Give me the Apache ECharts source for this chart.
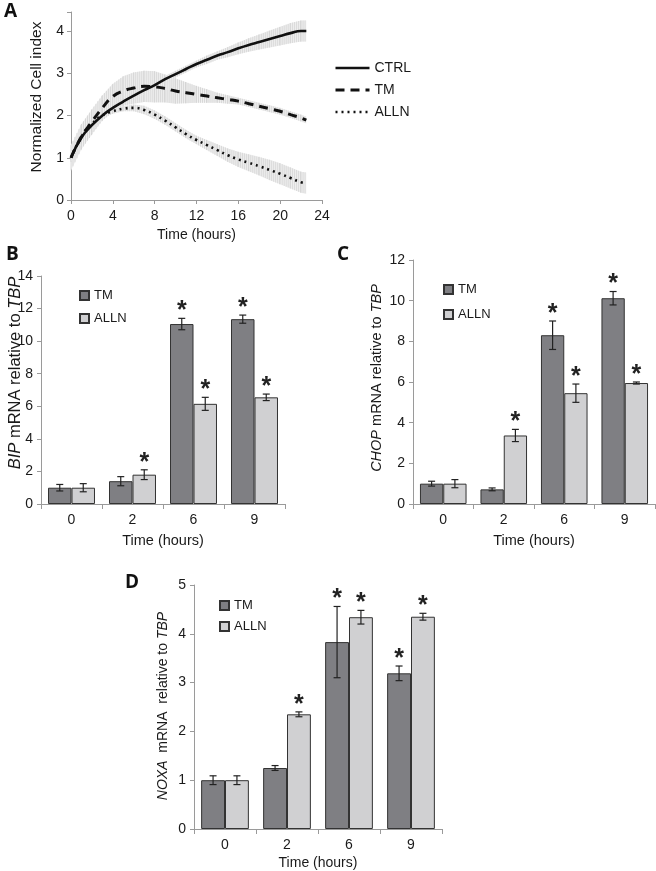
<!DOCTYPE html>
<html><head><meta charset="utf-8">
<script src="https://cdn.jsdelivr.net/npm/echarts@6/dist/echarts.min.js"></script>
<style>
html,body{margin:0;padding:0;background:#fff;width:656px;height:871px;overflow:hidden}
.c{position:absolute;left:0;top:0;width:656px;height:871px}
</style></head>
<body>
<div id="a" class="c"></div><div id="b" class="c"></div><div id="cc" class="c"></div><div id="d" class="c"></div>
<script>
// ---------- Panel A data (Normalized Cell index vs Time) ----------
const timesA   = [0,1,2,3,4,5,6,7,8,9,10,11,12,13,14,15,16,17,18,19,20,21,22,22.5];
const ctrlA    = [1.0,1.48,1.77,2.0,2.18,2.33,2.47,2.6,2.72,2.86,2.98,3.1,3.22,3.32,3.42,3.5,3.59,3.67,3.74,3.81,3.88,3.95,4.0,4.0];
const ctrlErrA = [0.05,0.15,0.15,0.12,0.1,0.1,0.1,0.1,0.08,0.08,0.08,0.08,0.08,0.1,0.1,0.12,0.14,0.16,0.18,0.2,0.22,0.24,0.25,0.25];
const tmA      = [1.0,1.5,1.85,2.18,2.45,2.58,2.65,2.69,2.68,2.64,2.58,2.54,2.5,2.46,2.42,2.38,2.34,2.28,2.22,2.16,2.1,2.02,1.94,1.89];
const tmErrA   = [0.3,0.3,0.3,0.3,0.3,0.35,0.37,0.37,0.37,0.33,0.3,0.25,0.2,0.16,0.12,0.1,0.08,0.08,0.08,0.08,0.08,0.08,0.08,0.08];
const allnA    = [1.0,1.5,1.8,2.0,2.1,2.16,2.18,2.13,2.02,1.88,1.72,1.56,1.42,1.3,1.18,1.06,0.96,0.88,0.8,0.71,0.62,0.52,0.42,0.4];
const allnErrA = [0.1,0.1,0.08,0.06,0.06,0.06,0.08,0.1,0.1,0.1,0.1,0.1,0.1,0.12,0.14,0.16,0.18,0.2,0.22,0.24,0.25,0.25,0.25,0.25];
const xTicksA  = [0,4,8,12,16,20,24];

// ---------- Bar panels ----------
const timeCats = ['0','2','6','9'];
// B: BIP
const bipTM      = [1.0,1.4,11.05,11.35];
const bipTMErr   = [0.2,0.28,0.35,0.25];
const bipTMSig   = [0,0,1,1];
const bipALLN    = [1.0,1.8,6.15,6.55];
const bipALLNErr = [0.25,0.3,0.4,0.2];
const bipALLNSig = [0,1,1,1];
// C: CHOP
const chopTM      = [1.0,0.72,8.3,10.12];
const chopTMErr   = [0.12,0.07,0.7,0.33];
const chopTMSig   = [0,0,1,1];
const chopALLN    = [1.0,3.37,5.45,5.95];
const chopALLNErr = [0.2,0.3,0.45,0.05];
const chopALLNSig = [0,1,1,1];
// D: NOXA
const noxaTM      = [1.0,1.25,3.83,3.19];
const noxaTMErr   = [0.09,0.05,0.73,0.15];
const noxaTMSig   = [0,0,1,1];
const noxaALLN    = [1.0,2.35,4.34,4.35];
const noxaALLNErr = [0.09,0.05,0.14,0.07];
const noxaALLNSig = [0,1,1,1];

const FONT = 'Liberation Sans, Arial, sans-serif';
const TXT = '#1a1a1a';
const AX = '#9a9a9a';
const TM_COL = '#7f7f83';
const ALLN_COL = '#d0d0d2';
const GAP = 0.23;

// ---------- Panel A ----------
function bandData(mean, err){
  const out=[];
  for(let i=0;i<timesA.length-1;i++){
    out.push([timesA[i], mean[i]-err[i], mean[i]+err[i], timesA[i+1], mean[i+1]-err[i+1], mean[i+1]+err[i+1]]);
  }
  return out;
}
function bandRender(params, api){
  const x0=api.value(0), l0=api.value(1), h0=api.value(2), x1=api.value(3), l1=api.value(4), h1=api.value(5);
  const pL0=api.coord([x0,l0]), pH0=api.coord([x0,h0]), pL1=api.coord([x1,l1]), pH1=api.coord([x1,h1]);
  const children=[{type:'polygon', shape:{points:[pL0,pH0,pH1,pL1]}, style:{fill:'#f1f1f1', stroke:null}}];
  const w=pL1[0]-pL0[0];
  for(let px=0; px<w; px+=2){
    const f=px/w;
    const yl=pL0[1]+(pL1[1]-pL0[1])*f, yh=pH0[1]+(pH1[1]-pH0[1])*f;
    children.push({type:'line', shape:{x1:pL0[0]+px,y1:yl,x2:pL0[0]+px,y2:yh}, style:{stroke:'#cdcdcd', lineWidth:0.7}});
  }
  return {type:'group', children};
}
const pairs = arr => timesA.map((t,i)=>[t,arr[i]]);

const chartA = echarts.init(document.getElementById('a'), null, {renderer:'canvas'});
chartA.setOption({
  animation:false,
  textStyle:{fontFamily:FONT},
  grid:{left:71, top:12, width:251, height:188, outerBoundsMode:'none'},
  xAxis:{type:'value', min:0, max:24, interval:4,
    axisLine:{lineStyle:{color:AX}}, axisTick:{show:true, length:4, lineStyle:{color:AX}},
    axisLabel:{color:TXT, fontSize:14, margin:9, formatter:v=>xTicksA.includes(v)?String(v):''},
    splitLine:{show:false},
    name:'Time (hours)', nameLocation:'middle', nameGap:28, nameTextStyle:{color:TXT, fontSize:14}},
  yAxis:{type:'value', min:0, max:4.45, interval:1,
    axisLine:{show:true, lineStyle:{color:AX}}, axisTick:{show:true, length:4, lineStyle:{color:AX}},
    axisLabel:{color:TXT, fontSize:14, margin:7, formatter:v=>Number.isInteger(v)?String(v):''},
    splitLine:{show:false}},
  legend:{orient:'vertical', left:329, top:56, itemWidth:34, itemHeight:10, itemGap:8,
    itemStyle:{opacity:0},
    textStyle:{color:TXT, fontSize:14, fontFamily:FONT},
    data:[
      {name:'CTRL', lineStyle:{width:2.6, type:'solid', color:'#111'}},
      {name:'TM', lineStyle:{width:3, type:[9,6], color:'#111'}},
      {name:'ALLN', lineStyle:{width:2.6, type:[2,4], color:'#111'}}
    ]},
  series:[
    {type:'custom', name:'bandTM', renderItem:bandRender, data:bandData(tmA,tmErrA), z:1, silent:true},
    {type:'custom', name:'bandCTRL', renderItem:bandRender, data:bandData(ctrlA,ctrlErrA), z:1, silent:true},
    {type:'custom', name:'bandALLN', renderItem:bandRender, data:bandData(allnA,allnErrA), z:1, silent:true},
    {type:'line', name:'CTRL', data:pairs(ctrlA), smooth:true, symbol:'none', z:5,
      lineStyle:{color:'#111', width:2.6, type:'solid'}, itemStyle:{color:'#111'}},
    {type:'line', name:'TM', data:pairs(tmA), smooth:true, symbol:'none', z:5,
      lineStyle:{color:'#111', width:3, type:[9,6]}, itemStyle:{color:'#111'}},
    {type:'line', name:'ALLN', data:pairs(allnA), smooth:true, symbol:'none', z:5,
      lineStyle:{color:'#111', width:2.6, type:[2,4]}, itemStyle:{color:'#111'}}
  ],
  graphic:[
    {type:'text', left:4, top:2, style:{text:'A', font:'bold 19px "Open Sans", sans-serif', fill:'#111'}},
    {type:'text', x:37, y:97, rotation:Math.PI/2, style:{text:'Normalized Cell index', font:'15.5px '+FONT, fill:TXT, textAlign:'center', textVerticalAlign:'middle'}}
  ]
});

// ---------- Bar panels helper ----------
function errRender(side){
  return function(params, api){
    const i=api.value(0), v=api.value(1), e=api.value(2), s=api.value(3);
    const catW=api.size([1,0])[0];
    const off=side*catW*(1-GAP)/4;
    const c=api.coord([i,v]);
    const x=c[0]+off;
    const yt=api.coord([i,v+e])[1], yb=api.coord([i,v-e])[1];
    const st={stroke:'#222', lineWidth:1.2};
    const ch=[
      {type:'line', shape:{x1:x,y1:yt,x2:x,y2:yb}, style:st},
      {type:'line', shape:{x1:x-3.5,y1:yt,x2:x+3.5,y2:yt}, style:st},
      {type:'line', shape:{x1:x-3.5,y1:yb,x2:x+3.5,y2:yb}, style:st}
    ];
    if(s){
      ch.push({type:'text', x:x, y:yt-7, style:{text:'*', font:'bold 25px '+FONT, fill:'#222', textAlign:'center', textVerticalAlign:'middle'}});
    }
    return {type:'group', children:ch};
  };
}
const errData=(vals,errs,sigs)=>vals.map((v,i)=>[i,v,errs[i],sigs[i]]);

function barOption(cfg){
  return {
    animation:false,
    textStyle:{fontFamily:FONT},
    grid:Object.assign({outerBoundsMode:'none'}, cfg.grid),
    xAxis:{type:'category', data:timeCats,
      axisLine:{lineStyle:{color:AX}}, axisTick:{show:true, alignWithLabel:false, length:5, lineStyle:{color:AX}},
      axisLabel:{color:TXT, fontSize:14, margin:cfg.labMargin||9},
      name:'Time (hours)', nameLocation:'middle', nameGap:cfg.nameGap, nameTextStyle:{color:TXT, fontSize:cfg.nameSize||15}},
    yAxis:{type:'value', min:0, max:cfg.max, interval:cfg.interval,
      axisLine:{show:true, lineStyle:{color:AX}}, axisTick:{show:true, length:4, lineStyle:{color:AX}},
      axisLabel:{color:TXT, fontSize:14, margin:8}, splitLine:{show:false}},
    legend:{orient:'vertical', left:cfg.legLeft, top:cfg.legTop, itemWidth:9, itemHeight:9, itemGap:cfg.legGap, icon:'rect',
      textStyle:{color:TXT, fontSize:13, fontFamily:FONT}, data:['TM','ALLN']},
    series:[
      {type:'bar', name:'TM', data:cfg.tm, barGap:'0%', barCategoryGap:(GAP*100)+'%',
        itemStyle:{color:TM_COL, borderColor:'#333', borderWidth:1}},
      {type:'bar', name:'ALLN', data:cfg.alln, barGap:'0%', barCategoryGap:(GAP*100)+'%',
        itemStyle:{color:ALLN_COL, borderColor:'#333', borderWidth:1}},
      {type:'custom', renderItem:errRender(-1), data:errData(cfg.tm,cfg.tmErr,cfg.tmSig), z:5, silent:true},
      {type:'custom', renderItem:errRender(1), data:errData(cfg.alln,cfg.allnErr,cfg.allnSig), z:5, silent:true}
    ],
    graphic:[
      {type:'text', left:cfg.letter[1], top:cfg.letter[2], style:{text:cfg.letter[0], font:'bold 19px "Open Sans", sans-serif', fill:'#111'}},
      {type:'text', x:cfg.yname[1], y:cfg.yname[2], rotation:Math.PI/2,
        style:{text:cfg.yname[0], font:cfg.ynameSize+'px '+FONT, fill:TXT, textAlign:'center', textVerticalAlign:'middle',
          rich:{i:{fontStyle:'italic', fontSize:cfg.ynameSize, fontFamily:FONT, fill:TXT}, n:{fontSize:cfg.ynameSize, fontFamily:FONT, fill:TXT}}}}
    ]
  };
}

echarts.init(document.getElementById('b')).setOption(barOption({
  grid:{left:41, top:276, width:244, height:228}, max:14, interval:2, nameGap:29, nameSize:14.5,
  legLeft:74, legTop:284, legGap:10,
  tm:bipTM, tmErr:bipTMErr, tmSig:bipTMSig, alln:bipALLN, allnErr:bipALLNErr, allnSig:bipALLNSig,
  letter:['B',6,245], yname:['{i|BIP}{n| mRNA relative to }{i|TBP}',15,373], ynameSize:16.5
}));
echarts.init(document.getElementById('cc')).setOption(barOption({
  grid:{left:413, top:260, width:242, height:244}, max:12, interval:2, nameGap:29, nameSize:14.5,
  legLeft:438, legTop:278, legGap:12,
  tm:chopTM, tmErr:chopTMErr, tmSig:chopTMSig, alln:chopALLN, allnErr:chopALLNErr, allnSig:chopALLNSig,
  letter:['C',337,245], yname:['{i|CHOP}{n| mRNA relative to }{i|TBP}',377,378], ynameSize:14.5
}));
echarts.init(document.getElementById('d')).setOption(barOption({
  grid:{left:194, top:585, width:248, height:244}, max:5, interval:1, nameGap:27, nameSize:14, labMargin:9,
  legLeft:214, legTop:594, legGap:8,
  tm:noxaTM, tmErr:noxaTMErr, tmSig:noxaTMSig, alln:noxaALLN, allnErr:noxaALLNErr, allnSig:noxaALLNSig,
  letter:['D',125,573], yname:['{i|NOXA}{n|  mRNA  relative to }{i|TBP}',163,706], ynameSize:14
}));
</script>
</body></html>
